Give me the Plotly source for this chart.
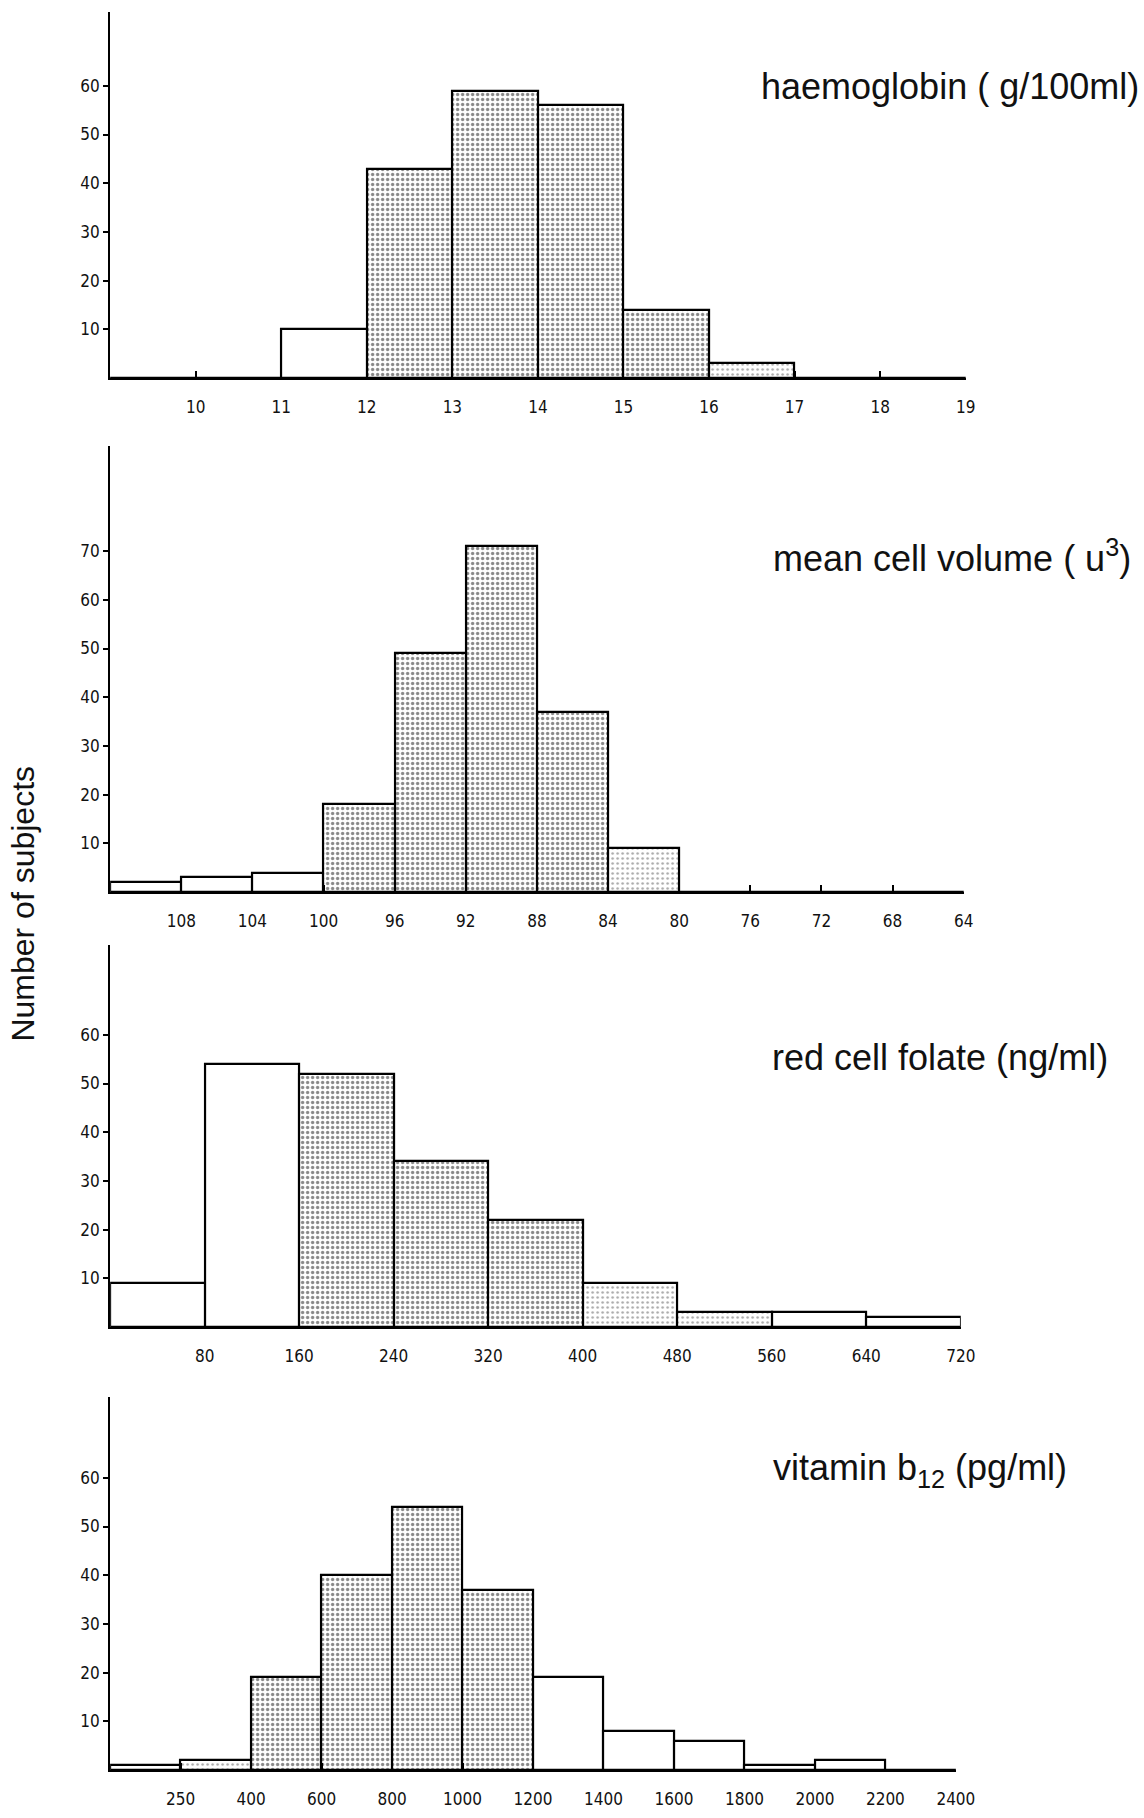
import plotly.graph_objects as go

# ---------------- data ----------------
hb_edges = [9, 10, 11, 12, 13, 14, 15, 16, 17, 18, 19]
hb_counts = [0, 0, 10, 43, 59, 56, 14, 3, 0, 0]
hb_shade = ["none", "none", "none", "dark", "dark", "dark", "dark", "light", "none", "none"]
hb_ticks = [10, 11, 12, 13, 14, 15, 16, 17, 18, 19]

mcv_edges = [112, 108, 104, 100, 96, 92, 88, 84, 80, 76, 72, 68, 64]
mcv_counts = [2, 3, 4, 18, 49, 71, 37, 9, 0, 0, 0, 0]
mcv_shade = ["none", "none", "none", "dark", "dark", "dark", "dark", "light", "none", "none", "none", "none"]
mcv_ticks = [108, 104, 100, 96, 92, 88, 84, 80, 76, 72, 68, 64]

fol_edges = [0, 80, 160, 240, 320, 400, 480, 560, 640, 720]
fol_counts = [9, 54, 52, 34, 22, 9, 3, 3, 2]
fol_shade = ["none", "none", "dark", "dark", "dark", "light", "light", "none", "none"]
fol_ticks = [80, 160, 240, 320, 400, 480, 560, 640, 720]

b12_labels = ["250", "400", "600", "800", "1000", "1200", "1400", "1600", "1800", "2000", "2200", "2400"]
b12_counts = [1, 2, 19, 40, 54, 37, 19, 8, 6, 1, 2, 0]
b12_shade = ["none", "light", "dark", "dark", "dark", "dark", "none", "none", "none", "none", "none", "none"]

titles = ["haemoglobin ( g/100ml)", "mean cell volume ( u<sup>3</sup>)",
          "red cell folate (ng/ml)", "vitamin b<sub>12</sub> (pg/ml)"]
y_label = "Number of subjects"

# ---------------- figure ----------------
W, H = 1144, 1818
fig = go.Figure()

def pat(shades):
    shape = ["." if s != "none" else "" for s in shades]
    fg = ["#111111" if s == "dark" else "#555555" for s in shades]
    sol = [0.34 if s == "dark" else 0.2 for s in shades]
    return dict(shape=shape, fgcolor=fg, bgcolor="white", size=5, solidity=sol, fillmode="overlay")

def add_hist(edges, counts, shades, xa, ya):
    centers = [(edges[i] + edges[i + 1]) / 2 for i in range(len(counts))]
    widths = [abs(edges[i + 1] - edges[i]) for i in range(len(counts))]
    fig.add_trace(go.Bar(x=centers, y=counts, width=widths, xaxis=xa, yaxis=ya,
                         marker=dict(color="white", line=dict(color="black", width=2.2),
                                     pattern=pat(shades)),
                         showlegend=False, hoverinfo="x+y"))

add_hist(hb_edges, hb_counts, hb_shade, "x", "y")
add_hist(mcv_edges, mcv_counts, mcv_shade, "x2", "y2")
add_hist(fol_edges, fol_counts, fol_shade, "x3", "y3")
b12_edges = list(range(len(b12_counts) + 1))
add_hist(b12_edges, b12_counts, b12_shade, "x4", "y4")

# panel geometry in pixels: (left, right, top, baseline)
panels = [(112, 982, 12, 378), (112, 980, 446, 892), (112, 977, 945, 1327), (112, 972, 1397, 1770)]
px_per_unit = 4.87

tickfont = dict(family="Liberation Sans Narrow, DejaVu Sans Condensed, Arial Narrow, sans-serif",
                size=17, color="#111")

xcfg = [
    dict(range=[9, 19], tickvals=hb_ticks),
    dict(range=[112, 64], tickvals=mcv_ticks),
    dict(range=[0, 720], tickvals=fol_ticks),
    dict(range=[0, 12], tickvals=list(range(1, 13)), ticktext=b12_labels),
]
ymax_tick = [60, 70, 60, 60]

for i, (l, r, t, b) in enumerate(panels):
    sfx = "" if i == 0 else str(i + 1)
    yr = (b - t) / px_per_unit
    fig.update_layout(**{
        "xaxis" + sfx: dict(domain=[l / W, r / W], anchor="y" + sfx, showline=True, linecolor="black",
                            linewidth=2.2, ticks="inside", ticklen=7, tickwidth=2, tickcolor="black",
                            showgrid=False, zeroline=False, tickfont=tickfont,
                            ticklabelstandoff=12, **xcfg[i]),
        "yaxis" + sfx: dict(domain=[1 - b / H, 1 - t / H], anchor="x" + sfx, range=[0, yr],
                            showline=True, linecolor="black", linewidth=2.2, ticks="outside",
                            ticklen=5, tickwidth=1.5, tickcolor="black", showgrid=False,
                            zeroline=False, tickfont=tickfont,
                            tickvals=list(range(10, ymax_tick[i] + 1, 10))),
    })

title_pos = [(772, 87), (784, 556), (783, 1057), (784, 1470)]
for txt, (x, y) in zip(titles, title_pos):
    fig.add_annotation(text=txt, x=x / W, y=1 - y / H, xref="paper", yref="paper",
                       xanchor="left", yanchor="middle", showarrow=False,
                       font=dict(family="Liberation Sans, Arial, sans-serif", size=36, color="#111"))

fig.add_annotation(text=y_label, x=23 / W, y=1 - 904 / H, xref="paper", yref="paper",
                   textangle=-90, xanchor="center", yanchor="middle", showarrow=False,
                   font=dict(family="Liberation Sans, Arial, sans-serif", size=32, color="#111"))

fig.update_layout(width=W, height=H, margin=dict(l=0, r=0, t=0, b=0),
                  paper_bgcolor="white", plot_bgcolor="white", bargap=0)

fig.write_html("out.html")
